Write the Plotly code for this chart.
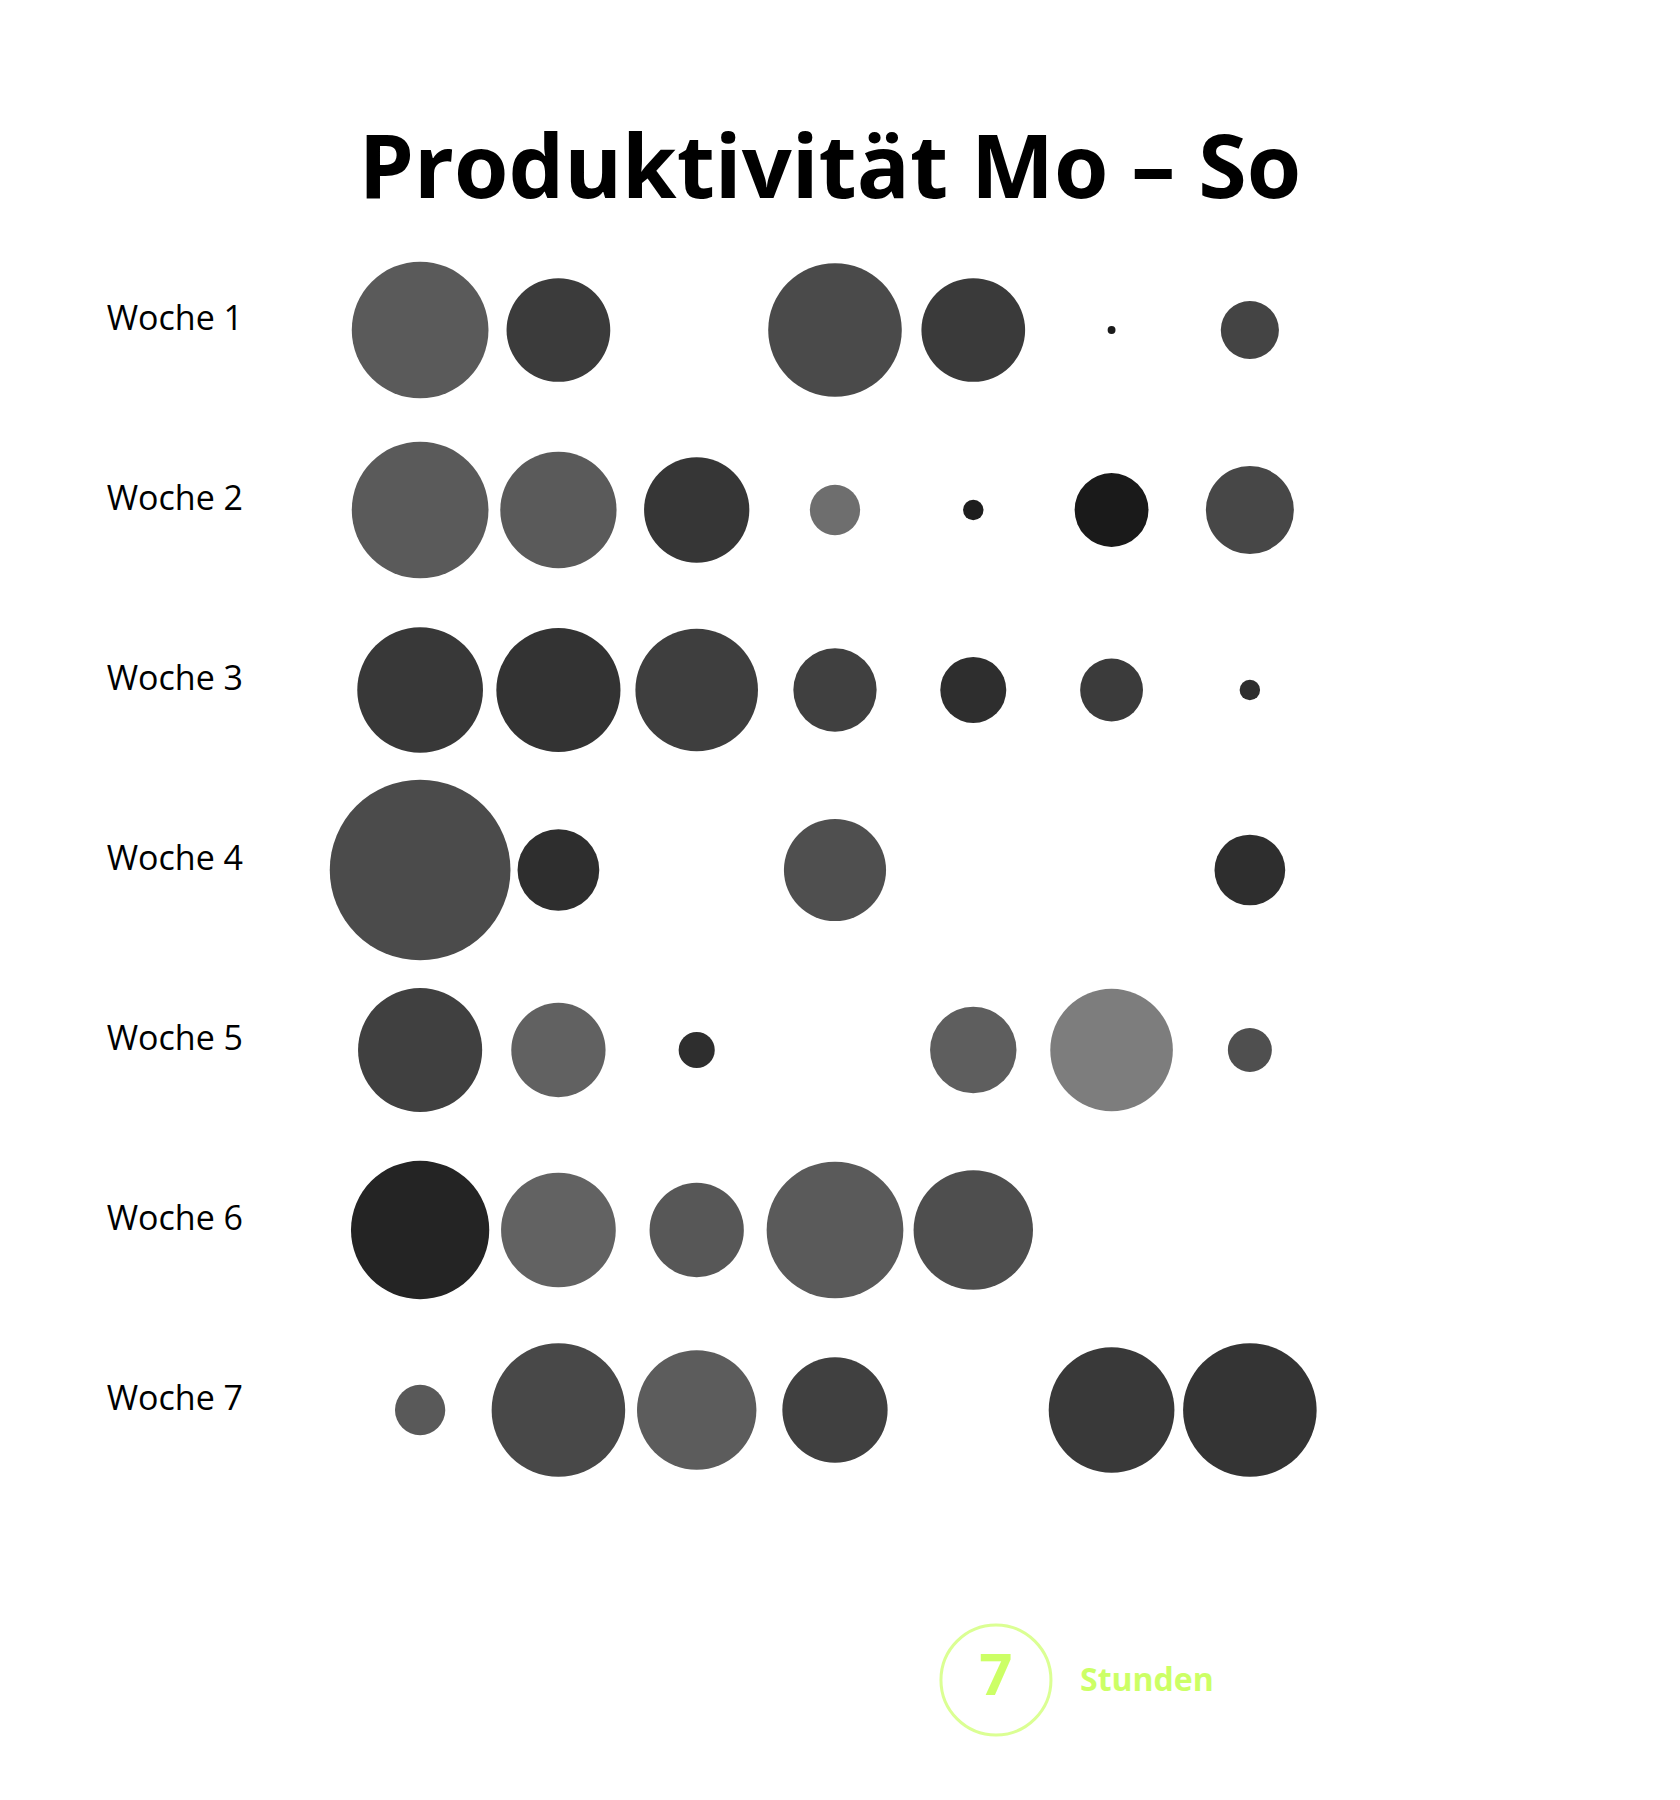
import plotly.graph_objects as go

# ---- data ----
tage = ["Mo", "Di", "Mi", "Do", "Fr", "Sa", "So"]
wochen = ["Woche 1", "Woche 2", "Woche 3", "Woche 4", "Woche 5", "Woche 6", "Woche 7"]

# hours per day (None = no entry)
stunden_w1 = [8.7, 6.6, None, 8.5, 6.6, 0.5, 3.7]
stunden_w2 = [8.7, 7.4, 6.7, 3.2, 1.3, 4.7, 5.6]
stunden_w3 = [8.0, 7.9, 7.8, 5.3, 4.2, 4.0, 1.3]
stunden_w4 = [11.5, 5.2, None, 6.5, None, None, 4.5]
stunden_w5 = [7.9, 6.0, 2.3, None, 5.5, 7.8, 2.8]
stunden_w6 = [8.8, 7.3, 6.0, 8.7, 7.6, None, None]
stunden_w7 = [3.2, 8.5, 7.6, 6.7, None, 8.0, 8.5]

# grey level per day (0 = black, 255 = white)
grau_w1 = [90, 59, None, 74, 58, 26, 68]
grau_w2 = [90, 90, 54, 110, 30, 26, 71]
grau_w3 = [56, 51, 62, 64, 46, 59, 46]
grau_w4 = [75, 46, None, 79, None, None, 46]
grau_w5 = [64, 97, 46, None, 94, 125, 79]
grau_w6 = [36, 98, 87, 90, 78, None, None]
grau_w7 = [89, 72, 92, 64, None, 57, 52]

legende_wert = [7]
legende_text = "Stunden"
titel = "Produktivität Mo – So"

stunden = [stunden_w1, stunden_w2, stunden_w3, stunden_w4, stunden_w5, stunden_w6, stunden_w7]
grau = [grau_w1, grau_w2, grau_w3, grau_w4, grau_w5, grau_w6, grau_w7]

FONT = "Open Sans"
GREEN = "#ccff66"
SIZEREF = legende_wert[0] / 110.0

fig = go.Figure()
for wi, (werte, g) in enumerate(zip(stunden, grau)):
    xs, ys, ss, cs, tx = [], [], [], [], []
    for di, v in enumerate(werte):
        if v is None:
            continue
        xs.append(di)
        ys.append(wi)
        ss.append(v)
        cs.append(f"rgb({g[di]},{g[di]},{g[di]})")
        tx.append(f"{wochen[wi]}, {tage[di]}: {v} h")
    fig.add_trace(go.Scatter(
        x=xs, y=ys, mode="markers",
        marker=dict(size=ss, sizemode="diameter", sizeref=SIZEREF,
                    color=cs, line=dict(width=0), opacity=1),
        hovertext=tx, hoverinfo="text", showlegend=False, cliponaxis=False,
    ))

# legend bubble
fig.add_trace(go.Scatter(
    x=[4.164], y=[7.5], mode="markers+text",
    marker=dict(size=legende_wert, sizemode="diameter", sizeref=SIZEREF,
                color="rgba(0,0,0,0)", line=dict(width=3, color=GREEN)),
    text=[f"<b>{legende_wert[0]}</b>"], textposition="middle center",
    textfont=dict(family=FONT, size=58, color=GREEN),
    cliponaxis=False, showlegend=False, hoverinfo="skip",
))
fig.add_annotation(x=4.755, y=7.5, xref="x", yref="y", text=f"<b>{legende_text}</b>",
                   showarrow=False, xanchor="left", yanchor="middle", yshift=2,
                   font=dict(family=FONT, size=32, color=GREEN))

# plot area: columns 138.33 px apart starting at x=420, rows 180 px apart starting at y=330
fig.update_layout(
    width=1680, height=1800,
    margin=dict(l=281, r=361, t=240, b=40),
    paper_bgcolor="white", plot_bgcolor="white",
    font=dict(family=FONT, color="black"),
    title=dict(text=f"<b>{titel}</b>", x=830 / 1680, xanchor="center",
               xref="container", yref="container", y=1 - 167 / 1800, yanchor="middle",
               font=dict(family=FONT, size=88, color="black")),
    xaxis=dict(range=[-0.5 - 70 / 138.33, 6.5], showgrid=False, zeroline=False, showline=False,
               showticklabels=False, ticks=""),
    yaxis=dict(range=[6.5 + 260 / 180, -0.5], showgrid=False, zeroline=False, showline=False,
               tickvals=list(range(len(wochen))), ticktext=wochen, ticks="",
               tickfont=dict(family=FONT, size=34, color="black"),
               ticklabelstandoff=37, ticklabelshift=12),
)

fig.write_html("out.html")
